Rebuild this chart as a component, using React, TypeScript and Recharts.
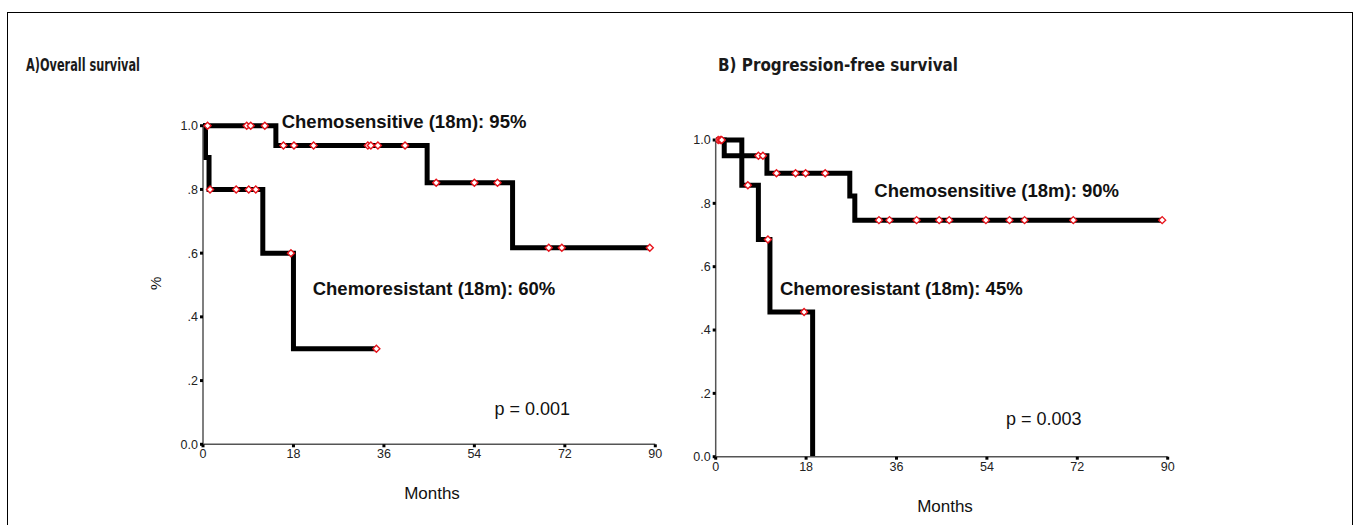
import { ComposedChart, Line, Scatter, XAxis, YAxis } from 'recharts';

const monthTicks = [0, 18, 36, 54, 72, 90];
const survTicks = [0, 0.2, 0.4, 0.6, 0.8, 1];

// A) overall survival - event times (months) and survival after each step
const osSensTimes = [0, 14.5, 44.6, 61.6, 88.9];
const osSensSurv = [1, 0.9375, 0.821, 0.617, 0.617];
const osSensCensored = [0.9, 8.7, 9.5, 12.3, 16.0, 18.1, 22.0, 32.8, 33.4, 34.8, 40.2, 46.4, 54.0, 58.6, 68.8, 71.4, 88.9];

const osResTimes = [0, 0.5, 1.2, 11.9, 18.0, 34.5];
const osResSurv = [1, 0.9, 0.8, 0.6, 0.3, 0.3];
const osResCensored = [1.4, 6.6, 9.1, 10.5, 17.5, 34.5];

// B) progression-free survival
const pfsSensTimes = [0, 1.7, 10.2, 26.7, 27.7, 88.9];
const pfsSensSurv = [1, 0.95, 0.895, 0.823, 0.747, 0.747];
const pfsSensCensored = [0.5, 0.9, 1.2, 8.5, 9.4, 12.1, 15.9, 17.9, 21.8, 32.5, 34.6, 40.0, 44.5, 46.5, 53.8, 58.5, 61.5, 71.2, 88.9];

const pfsResTimes = [0, 5.2, 8.5, 10.8, 19.3];
const pfsResSurv = [1, 0.857, 0.686, 0.457, 0];
const pfsResCensored = [6.4, 10.4, 17.6];

const sans = '"Liberation Sans", Arial, Helvetica, sans-serif';
const narrow = '"Liberation Sans Narrow", "Arial Narrow", "DejaVu Sans Condensed", sans-serif';

function steps(times: number[], surv: number[]) {
    return times.map((t, i) => ({ t, s: surv[i] }));
}

// censored marks sit on the curve at their time
function marks(cens: number[], times: number[], surv: number[]) {
    return cens.map(t => {
        let s = surv[0];
        times.forEach((et, i) => { if (et <= t) s = surv[i]; });
        return { t, s };
    });
}

const fmtSurv = (v: number) => (v === 0 ? '0.0' : v === 1 ? '1.0' : '.' + Math.round(v * 10));

function Diamond(props: any) {
    const { cx, cy } = props;
    const r = 3.5;
    return (
        <path
            d={`M${cx},${cy - r}L${cx + r},${cy}L${cx},${cy + r}L${cx - r},${cy}Z`}
            fill="#fff"
            stroke="#e8141c"
            strokeWidth={1.4}
        />
    );
}

interface Curve { times: number[]; surv: number[]; cens: number[] }

function Panel({ left, top, margin, yWidth, curves }: { left: number; top: number; margin: any; yWidth: number; curves: Curve[] }) {
    const tick = { fill: '#222', fontSize: 12.5, fontFamily: sans };
    return (
        <div style={{ position: 'absolute', left, top }}>
            <ComposedChart width={560} height={400} margin={margin}>
                <XAxis
                    type="number"
                    dataKey="t"
                    domain={[0, 90]}
                    ticks={monthTicks}
                    height={30}
                    tick={tick}
                    tickSize={3}
                    tickLine={{ stroke: '#000', strokeWidth: 3 }}
                    axisLine={{ stroke: '#555', strokeWidth: 1.5 }}
                    allowDataOverflow
                />
                <YAxis
                    type="number"
                    dataKey="s"
                    domain={[0, 1]}
                    ticks={survTicks}
                    width={yWidth}
                    tick={tick}
                    tickSize={3}
                    tickFormatter={fmtSurv}
                    tickLine={{ stroke: '#000', strokeWidth: 3 }}
                    axisLine={{ stroke: '#555', strokeWidth: 1.5 }}
                />
                {curves.map((c, i) => (
                    <Line
                        key={`line-${i}`}
                        data={steps(c.times, c.surv)}
                        dataKey="s"
                        type="stepAfter"
                        stroke="#000"
                        strokeWidth={5}
                        strokeLinejoin="miter"
                        dot={false}
                        isAnimationActive={false}
                    />
                ))}
                {curves.map((c, i) => (
                    <Scatter
                        key={`cens-${i}`}
                        data={marks(c.cens, c.times, c.surv)}
                        dataKey="s"
                        shape={Diamond}
                        isAnimationActive={false}
                    />
                ))}
            </ComposedChart>
        </div>
    );
}

export default function App() {
    return (
        <div style={{ position: 'absolute', left: 0, top: 0, width: 1359, height: 525, overflow: 'hidden', background: '#fff' }}>
            <div style={{ position: 'absolute', left: 7, top: 12, width: 1344, height: 540, border: '1.5px solid #000' }} />
            <Panel
                left={150}
                top={100}
                yWidth={53}
                margin={{ top: 25.7, right: 54.7, bottom: 25.7, left: 0 }}
                curves={[
                    { times: osSensTimes, surv: osSensSurv, cens: osSensCensored },
                    { times: osResTimes, surv: osResSurv, cens: osResCensored },
                ]}
            />
            <Panel
                left={662}
                top={110}
                yWidth={53.7}
                margin={{ top: 30, right: 54.3, bottom: 23.3, left: 0 }}
                curves={[
                    { times: pfsSensTimes, surv: pfsSensSurv, cens: pfsSensCensored },
                    { times: pfsResTimes, surv: pfsResSurv, cens: pfsResCensored },
                ]}
            />
            <svg width={1359} height={525} style={{ position: 'absolute', left: 0, top: 0, pointerEvents: 'none' }}>
                <g fontFamily={narrow} fontWeight="bold" fontSize={18} fill="#1a1a1a">
                    <text x={26} y={70.5} textLength={114} lengthAdjust="spacingAndGlyphs">A)Overall survival</text>
                    <text x={718} y={70.5} textLength={240} lengthAdjust="spacingAndGlyphs">B) Progression-free survival</text>
                </g>
                <g fontFamily={sans} fontWeight="bold" fontSize={18.5} fill="#111">
                    <text x={281.7} y={128.3}>Chemosensitive (18m): 95%</text>
                    <text x={312.7} y={295}>Chemoresistant (18m): 60%</text>
                    <text x={874.3} y={197.3}>Chemosensitive (18m): 90%</text>
                    <text x={780} y={295}>Chemoresistant (18m): 45%</text>
                </g>
                <g fontFamily={sans} fontSize={18} fill="#111">
                    <text x={494.5} y={415}>p = 0.001</text>
                    <text x={1006} y={425}>p = 0.003</text>
                </g>
                <g fontFamily={sans} fontSize={17} fill="#111" textAnchor="middle">
                    <text x={432} y={499}>Months</text>
                    <text x={945} y={511.7}>Months</text>
                    <text x={161} y={283.3} fontSize={15} transform="rotate(-90 161 283.3)">%</text>
                </g>
            </svg>
        </div>
    );
}
